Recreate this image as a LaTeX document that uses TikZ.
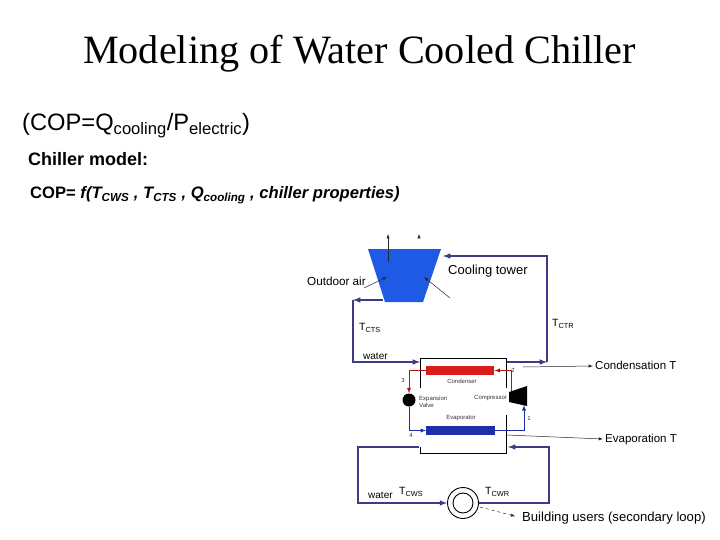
\documentclass[tikz,border=0pt]{standalone}
\usepackage{fontspec}
\setmainfont{Liberation Sans}
\newfontfamily\titlefont{Liberation Serif}
\usetikzlibrary{positioning}
\definecolor{loopblue}{HTML}{3B3B86}
\definecolor{towerblue}{HTML}{1F5AE6}
\definecolor{condred}{HTML}{D81C1C}
\definecolor{evapblue}{HTML}{1F2FA8}
\newcommand{\fs}[1]{\fontsize{#1}{#1}\selectfont}
\begin{document}
\begin{tikzpicture}[x=1pt, y=-1pt, >=latex,
        loop/.style = {draw=loopblue, line width=1.5pt, ->},
        pipe/.style = {draw=#1, line width=0.9pt, ->},
        lead/.style = {draw=black!85, line width=0.5pt, ->},
       label/.style = {anchor=west, inner sep=0pt, font=\fs{#1}},
       small/.style = {inner sep=0pt, text=black!80, font=\fs{6}},
      vessel/.style = {draw=none, fill=#1, minimum width=68.5pt,
                       minimum height=9pt, inner sep=0pt}
                    ]
\useasboundingbox (0,0) rectangle (720,540);
% Headings
\node[inner sep=0pt, font=\titlefont\fs{40.2}] (title) at (359.5,54) {Modeling of Water Cooled Chiller};
\node[label=23.7] (ratio) at (22,126) {(COP=Q\textsubscript{cooling}/P\textsubscript{electric})};
\node[label=18, font=\bfseries\fs{18}] (model) at (28,159) {Chiller model:};
\node[label=16, font=\bfseries\fs{16.6}] (formula) at (30,195)
     {COP= \textit{f(T\textsubscript{CWS} , T\textsubscript{CTS} , Q\textsubscript{cooling} , chiller properties)}};
% Draw the cooling tower
\fill[towerblue] (368,249) -- (441,249) -- (423,302) -- (385,302) -- cycle;
\coordinate (T-out)  at (388,262);
\coordinate (T-up)   at (388,234);
\coordinate (T-mid)  at (419,236);
\coordinate (T-tip)  at (419,234);
\coordinate (A-1)    at (364,288);
\coordinate (A-1t)   at (387,277);
\coordinate (A-2)    at (450,298);
\coordinate (A-2t)   at (424,277);
\draw[lead] (T-out) -- (T-up);
\draw[lead] (T-mid) -- (T-tip);
\draw[lead] (A-1) -- (A-1t);
\draw[lead] (A-2) -- (A-2t);
\node[label=11.7] (air)   at (307,281) {Outdoor air};
\node[label=13] (tower) at (448,271.5) {Cooling tower};
% Draw the chiller casing, open at the sides
\coordinate (C-a) at (420,388);
\coordinate (C-b) at (420,358);
\coordinate (C-c) at (506,358);
\coordinate (C-d) at (506,388);
\coordinate (C-e) at (420,447);
\coordinate (C-f) at (420,453);
\coordinate (C-g) at (506,453);
\coordinate (C-h) at (506,415);
\draw[line width=0.7pt] (C-a) -- (C-b) -- (C-c) -- (C-d);
\draw[line width=0.7pt] (C-e) -- (C-f) -- (C-g) -- (C-h);
% Draw the components
\node[vessel=condred] (cond) at (460,370.5) {};
\node[vessel=evapblue] (evap) at (460.5,430.5) {};
\node[circle, fill=black, minimum size=13pt, inner sep=0pt] (valve) at (409,400) {};
\fill (509,392) -- (527,386) -- (527,406) -- (509,402) -- cycle;
\coordinate (comp-in)  at (524,405);
\coordinate (comp-out) at (511,391);
% Connect the refrigerant circuit
\draw[pipe=condred!80!black] (comp-out) |- (cond.east);
\draw[pipe=condred!80!black] (cond.west) -| (valve.north);
\draw[pipe=evapblue] (valve.south) |- (evap.west);
\draw[pipe=evapblue] (evap.east) -| (comp-in);
% Draw the cooling water loop
\coordinate (W-1)  at (383,300);
\coordinate (W-2)  at (353,300);
\coordinate (W-3)  at (353,362);
\coordinate (W-4)  at (420,362);
\coordinate (W-5)  at (507,362);
\coordinate (W-6)  at (547,362);
\coordinate (W-7)  at (547,256);
\coordinate (W-8)  at (443,256);
\draw[loop] (W-1) -- (W-2);
\draw[loop] (W-2) -- (W-3) -- (W-4);
\draw[loop] (W-5) -- (W-6);
\draw[loop] (W-6) -- (W-7) -- (W-8);
% Draw the chilled water loop
\node[circle, draw, line width=0.9pt, fill=white, minimum size=31pt, inner sep=0pt] (pump) at (463,503) {};
\node[circle, draw, line width=0.9pt, minimum size=20pt, inner sep=0pt] (pump-in) at (463,503) {};
\coordinate (U-1) at (549,503);
\coordinate (U-2) at (549,447);
\coordinate (U-3) at (508,447);
\coordinate (U-4) at (419,447);
\coordinate (U-5) at (358,447);
\coordinate (U-6) at (358,503);
\draw[loop] (pump.east) -- (U-1) -- (U-2) -- (U-3);
\draw[loop] (U-4) -- (U-5) -- (U-6) -- (pump.west);
% Output leaders
\coordinate (L-1)  at (523,367);
\coordinate (L-1t) at (593,366);
\coordinate (L-2)  at (507,435);
\coordinate (L-2t) at (603,439);
\node[label=11.5] (ctemp) at (595,365) {Condensation T};
\node[label=11.5] (etemp) at (605,440) {Evaporation T};
\draw[lead] (L-1) -- (L-1t);
\draw[lead] (L-2) -- (L-2t);
\node[label=13.1] (users) at (522,518) {Building users (secondary loop)};
\coordinate (D-1) at (480,507);
\draw[lead, dashed, shorten >=7pt] (D-1) -- (users.west);
% Temperature and water labels
\node[label=10] (water-1) at (363,356) {water};
\node[label=10] (water-2) at (368,495) {water};
\node[label=10.5] (t-cts) at (359,328) {T\textsubscript{CTS}};
\node[label=10.5] (t-ctr) at (552,324) {T\textsubscript{CTR}};
\node[label=10.5] (t-cws) at (399,492) {T\textsubscript{CWS}};
\node[label=10.5] (t-cwr) at (485,492) {T\textsubscript{CWR}};
% Small labels in the chiller
\node[small] (n-cond) at (462,381) {Condenser};
\node[small] (n-evap) at (461,418) {Evaporator};
\node[small, anchor=west] (n-comp) at (474,398) {Compressor};
\node[small, anchor=west, align=left] (n-valve) at (419,401.5) {Expansion\\[1pt]Valve};
\node[small] (n-1) at (529,418) {1};
\node[small] (n-2) at (513,370) {2};
\node[small] (n-3) at (403,380) {3};
\node[small] (n-4) at (411,435) {4};
\end{tikzpicture}
\end{document}
